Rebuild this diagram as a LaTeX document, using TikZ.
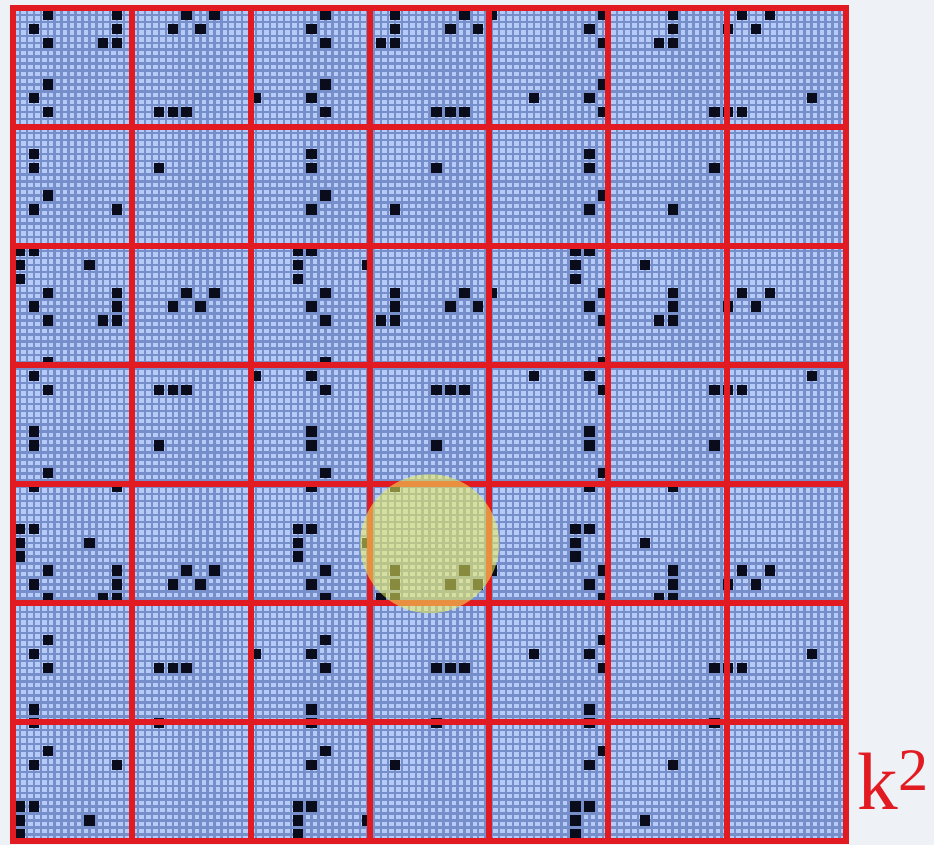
\documentclass[tikz,border=0pt]{standalone}
\usepackage{fontspec}
\setmainfont{Liberation Serif}
\usepackage{tikz}
\usetikzlibrary{positioning}
\definecolor{pagebg}{RGB}{238,241,246}
\definecolor{cellblue}{RGB}{182,203,247}
\definecolor{gridblue}{RGB}{118,142,202}
\definecolor{blockred}{RGB}{226,26,34}
\definecolor{dotblack}{RGB}{10,12,28}
\definecolor{spotyellow}{RGB}{240,242,90}
% black pixels of one 20x20 tile (column/row from top left)
\newcommand{\tilepixels}{2/0,7/0,12/0,14/0,1/1,7/1,11/1,13/1,2/2,6/2,7/2,
  2/5,1/6,17/6,2/7,10/7,11/7,12/7,1/10,1/11,10/11,2/13,1/14,7/14,
  0/17,1/17,0/18,5/18,0/19}

\begin{document}
\begin{tikzpicture}[
    x=0.3cm, y=0.3cm,
    finegrid/.style={draw=gridblue, line width=1.5pt, step=0.15cm},
    blockline/.style={draw=blockred, line width=3.8pt},
    pixel/.style={fill=dotblack},
    spot/.style={fill=spotyellow, fill opacity=0.55},
    lbl/.style={text=blockred, font=\fontsize{50}{50}\selectfont, inner sep=0pt, anchor=base west},
  ]
  \useasboundingbox[fill=pagebg] (-0.936,-0.26) rectangle (66.31,60.576);
  \fill[cellblue] (0,0) rectangle (60,60);
  \draw[finegrid] (0,0) grid (60,60);
  % tile repeated 3x3
  \foreach \tx in {0,20,40}
    \foreach \ty in {0,20,40}
      \foreach \px/\py in \tilepixels
        \fill[pixel] ({\tx+\px+0.13},{60-\ty-\py-0.87}) rectangle ++(0.74,0.74);
  % block borders
  \foreach \k in {1,...,6}{
    \draw[blockline] ({\k*60/7},0) -- ({\k*60/7},60);
    \draw[blockline] (0,{\k*60/7}) -- (60,{\k*60/7});
  }
  \draw[blockline] (0,0) rectangle (60,60);
  \coordinate (spotc) at (30,{60-4.5*60/7});
  \fill[spot] (spotc) circle (5);
  \node[lbl] (ksq) at (60.8,2.26) {k\raisebox{12pt}{\fontsize{37}{37}\selectfont 2}};
\end{tikzpicture}
\end{document}
